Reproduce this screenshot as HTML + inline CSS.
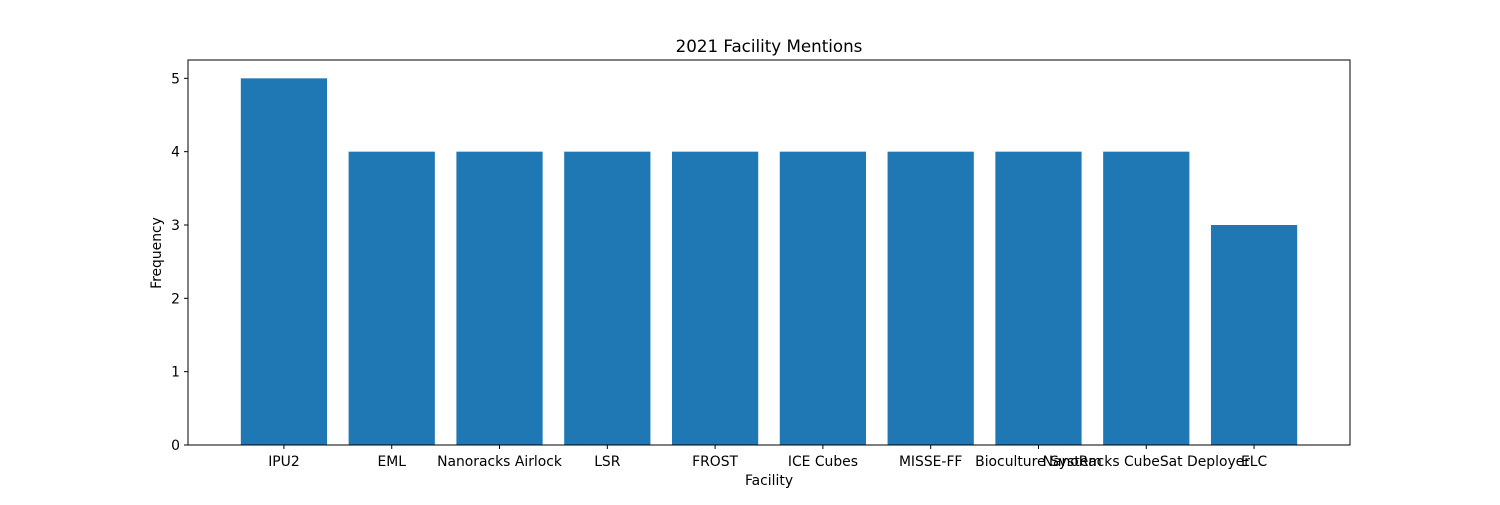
<!DOCTYPE html>
<html><head><meta charset="utf-8"><style>
body{margin:0;background:#fff;}
svg text{font-family:"DejaVu Sans","Liberation Sans",sans-serif;fill:#000;}
</style></head><body>
<svg id="chart" width="1500" height="500" xmlns="http://www.w3.org/2000/svg">
<rect width="1500" height="500" fill="#fff"/>
<text x="769" y="52" font-size="16.7" text-anchor="middle">2021 Facility Mentions</text>
<g id="bars"></g>
<g id="xticks"></g>
<g id="yticks"></g>
<rect x="188" y="60" width="1162" height="385" fill="none" stroke="#000" stroke-width="1"/>
<text x="769" y="485" font-size="13.9" text-anchor="middle">Facility</text>
<text transform="translate(161,253) rotate(-90)" font-size="13.9" text-anchor="middle">Frequency</text>
</svg>
<script>
const categories=["IPU2","EML","Nanoracks Airlock","LSR","FROST","ICE Cubes","MISSE-FF","Bioculture System","NanoRacks CubeSat Deployer","ELC"];
const values=[5,4,4,4,4,4,4,4,4,3];
const yTicks=[0,1,2,3,4,5];
const NS="http://www.w3.org/2000/svg";
const L=188,R=1350,T=60,B=445;
const xmin=-0.89,xmax=categories.length-1+0.89,ymax=5.25;
const xs=v=>L+(v-xmin)/(xmax-xmin)*(R-L);
const ys=v=>B-v/ymax*(B-T);
const bw=xs(0.8)-xs(0);
const gb=document.getElementById('bars'),gx=document.getElementById('xticks'),gy=document.getElementById('yticks');
function mk(tag,attrs,parent){const e=document.createElementNS(NS,tag);for(const k in attrs)e.setAttribute(k,attrs[k]);parent.appendChild(e);return e;}
categories.forEach((c,i)=>{
  const r=mk('rect',{x:xs(i)-bw/2,y:ys(values[i]),width:bw,height:ys(0)-ys(values[i]),fill:'#1f77b4'},gb);
  
  
  const t=mk('line',{x1:xs(i),x2:xs(i),y1:B,y2:B+4,stroke:'#000'},gx);
  
  
  const l=mk('text',{x:xs(i),y:B+21,'font-size':13.9,'text-anchor':'middle'},gx);
  l.textContent=c;
  
  
});
yTicks.forEach(v=>{
  const t=mk('line',{x1:L-4,x2:L,y1:ys(v),y2:ys(v),stroke:'#000'},gy);
  
  
  const l=mk('text',{x:L-8,y:ys(v)+5,'font-size':13.9,'text-anchor':'end'},gy);
  l.textContent=v;
  
  
});
</script>
</body></html>
